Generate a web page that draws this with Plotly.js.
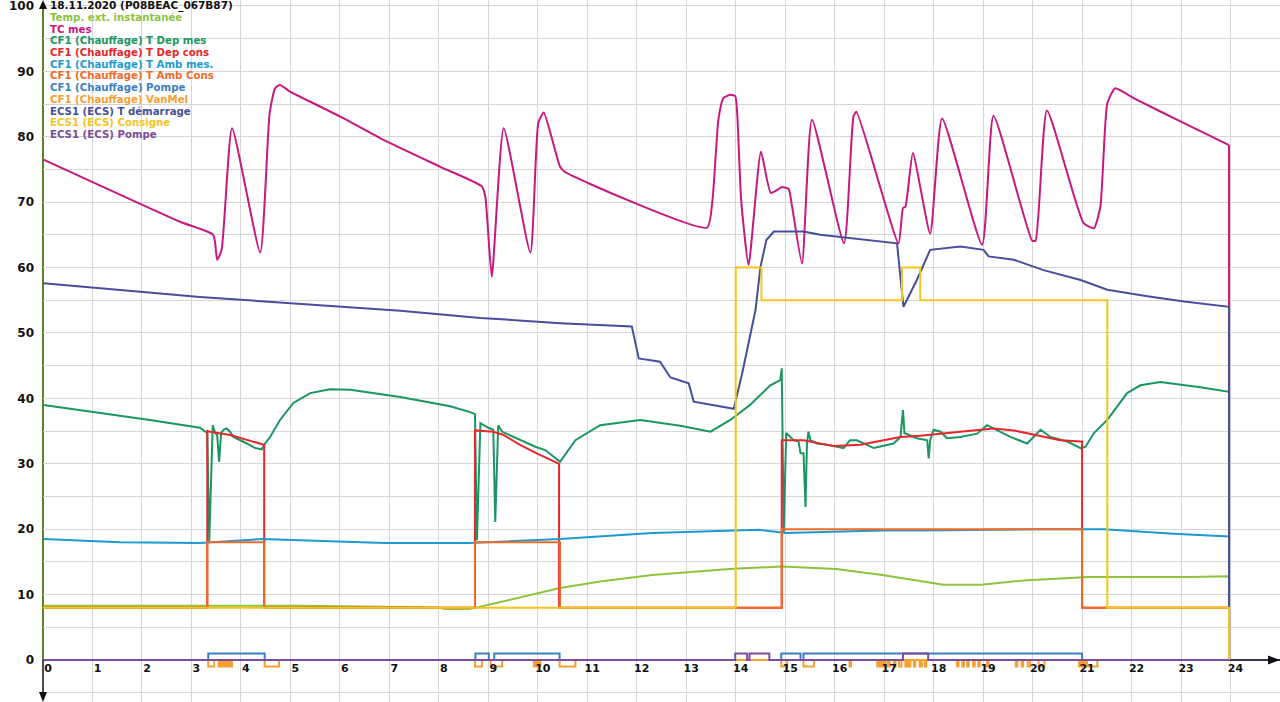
<!DOCTYPE html>
<html>
<head>
<meta charset="utf-8">
<script src="https://cdn.plot.ly/plotly-3.0.1.min.js"></script>
<style>html,body{margin:0;padding:0;background:#fff;}#chart{width:1280px;height:702px;}</style>
</head>
<body>
<div id="chart"></div>
<script>
// ---------- DATA ----------
const titleText = "18.11.2020 (P08BEAC_067B87)";
const seriesNames = [
  "Temp. ext. instantanée",
  "TC mes",
  "CF1 (Chauffage) T Dep mes",
  "CF1 (Chauffage) T Dep cons",
  "CF1 (Chauffage) T Amb mes.",
  "CF1 (Chauffage) T Amb Cons",
  "CF1 (Chauffage) Pompe",
  "CF1 (Chauffage) VanMel",
  "ECS1 (ECS) T démarrage",
  "ECS1 (ECS) Consigne",
  "ECS1 (ECS) Pompe"
];
const seriesColors = ["#8cc43c","#c8177f","#1a9660","#e8262b","#1b9bd0","#f06a28","#3b7fc4","#f5a031","#464f9a","#f7c41b","#7d4c9e"];
const hourTicks = [0,1,2,3,4,5,6,7,8,9,10,11,12,13,14,15,16,17,18,19,20,21,22,23,24];
const valueTicks = [0,10,20,30,40,50,60,70,80,90,100];

// Temp. ext. instantanée
const extX = [0.01,2.16,3.78,5.20,7.22,7.99,8.13,8.61,8.75,9.64,10.45,11.26,12.31,13.87,14.94,16.03,16.96,18.20,18.96,19.89,21.13,23.15,23.97,23.97];
const extY = [8.3,8.3,8.2,8.3,8.1,8.0,7.8,7.8,8.0,9.6,11.0,12.0,13.0,13.9,14.3,13.9,13.0,11.5,11.5,12.2,12.7,12.7,12.8,0];

// TC mes
const tcX = [0.01,2.77,3.44,3.52,3.61,3.82,4.39,4.58,4.69,4.79,4.99,5.20,6.00,6.81,8.03,8.87,8.94,9.07,9.31,9.85,10.01,10.12,10.45,10.55,13.42,13.53,13.65,13.75,13.89,13.99,14.03,14.11,14.26,14.51,14.71,14.94,15.07,15.14,15.34,15.54,16.19,16.38,16.44,17.29,17.38,17.43,17.58,17.93,18.17,18.98,19.21,19.99,20.06,20.29,21.03,21.24,21.37,21.51,21.67,22.04,23.05,23.97];
const tcY = [76.5,67.0,65.0,61.2,62.7,81.3,62.3,83.6,87.4,87.9,86.9,86.1,83.1,79.8,75.4,72.4,70.8,58.6,81.3,62.3,82.1,83.7,75.4,74.6,66.1,70.3,82.6,85.9,86.4,86.2,83.6,70.3,60.4,77.7,71.4,72.3,72.0,69.3,60.6,82.6,63.7,83.1,83.8,63.7,69.1,69.3,77.5,65.2,82.8,63.5,83.2,64.1,64.1,84.0,66.8,66.0,69.3,85.1,87.4,85.9,82.1,78.7];
const tcEndY = [78.7,0];

// CF1 T Dep mes
const depMesX = [0.01,1.15,2.16,3.17,3.32,3.36,3.43,3.48,3.52,3.56,3.60,3.65,3.71,3.78,3.85,4.12,4.29,4.42,4.49,4.59,4.79,5.06,5.40,5.80,6.21,7.22,8.23,8.63,8.73,8.77,8.84,9.00,9.10,9.14,9.20,9.28,9.64,9.95,10.15,10.45,10.76,11.26,12.07,12.88,13.49,13.89,14.29,14.70,14.90,14.93,14.97,15.02,15.17,15.27,15.31,15.37,15.41,15.44,15.47,15.51,15.64,15.85,16.18,16.31,16.45,16.79,17.19,17.33,17.38,17.41,17.66,17.87,17.90,17.93,18.00,18.14,18.27,18.54,18.88,19.08,19.21,19.55,19.89,20.16,20.36,20.70,20.97,21.07,21.24,21.51,21.91,22.18,22.58,23.39,23.97,23.97];
const depMesY = [39.0,37.8,36.7,35.5,34.7,18.1,35.9,34.7,34.4,30.3,34.7,35.2,35.4,34.9,34.1,33.1,32.4,32.2,33.1,34.1,36.7,39.3,40.8,41.4,41.3,40.2,38.8,37.9,37.6,18.3,36.2,35.5,35.2,21.1,35.9,34.9,33.6,32.6,32.1,30.3,33.6,35.9,36.7,35.8,34.9,36.7,39.0,42.0,42.8,44.6,19.4,34.7,33.6,33.4,31.6,31.6,23.4,33.1,34.9,33.6,33.1,32.9,32.4,33.6,33.6,32.4,33.1,34.1,38.2,34.7,33.9,33.6,30.8,33.6,35.2,34.9,33.9,34.1,34.6,35.9,35.4,34.1,33.1,35.2,34.1,33.4,32.4,32.6,34.7,36.7,40.8,42.0,42.5,41.7,41.0,0];

// CF1 T Dep cons
const depConsX = [0,3.32,3.32,3.38,3.78,4.12,4.47,4.47,8.73,8.73,9.10,9.31,9.64,9.98,10.43,10.43,14.93,14.93,15.37,15.98,16.52,17.33,17.73,18.54,19.21,19.62,20.16,20.56,20.97,21.0,21.0,23.97,23.97];
const depConsY = [8,8,35.0,34.9,34.4,33.7,32.9,8,8,35.1,34.9,34.4,32.9,31.6,30.0,8,8,33.6,33.6,32.7,32.9,34.1,34.3,34.9,35.4,35.1,34.3,33.6,33.4,33.4,8,8,0];

// CF1 T Amb mes.
const ambMesX = [0.01,1.56,3.17,4.43,5.20,6.89,8.61,10.45,12.31,13.87,14.48,15.02,16.96,17.73,20.06,21.45,22.85,23.97,23.97];
const ambMesY = [18.5,18.0,17.9,18.5,18.3,17.9,17.9,18.5,19.4,19.7,19.9,19.4,19.8,19.8,20.0,20.0,19.3,18.9,0];

// CF1 T Amb Cons
const ambConsX = [0,3.32,3.32,4.47,4.47,8.73,8.73,10.45,10.45,14.93,14.93,21.0,21.0,23.97,23.97];
const ambConsY = [8,8,18,18,8,8,18,18,8,8,20,20,8,8,0];

// CF1 Pompe (on intervals, level)
const pompeOn = [[3.34,4.48],[8.74,9.01],[9.12,10.44],[14.92,15.31],[15.37,21.0]];
const pompeLevel = 1;

// CF1 VanMel (active intervals, level)
const vanMelOn = [[3.34,3.46],[3.55,3.58],[3.60,3.63],[3.65,3.67],[3.69,3.72],[3.74,3.76],[3.78,3.82],[4.48,4.77],
  [8.73,8.87],[9.05,9.28],[9.92,9.95],[9.97,10.0],[10.02,10.05],[10.44,10.76],
  [14.92,15.04],[15.37,15.58],[16.30,16.33],[16.86,16.89],[16.93,16.96],[17.0,17.03],[17.08,17.11],[17.2,17.23],[17.3,17.35],
  [17.43,17.46],[17.5,17.53],[17.6,17.63],[17.72,17.76],[17.82,17.85],
  [18.47,18.5],[18.58,18.61],[18.68,18.71],[18.8,18.83],[18.9,18.93],[19.08,19.11],
  [19.66,19.69],[19.78,19.81],[19.9,19.95],[20.12,20.24],[20.94,20.98],[21.02,21.06],[21.1,21.31]];
const vanMelLevel = -1;

// ECS1 T démarrage
const demX = [0.01,3.17,7.22,8.84,10.45,11.90,12.04,12.47,12.68,13.05,13.15,13.96,14.13,14.29,14.40,14.50,14.62,14.77,15.37,15.71,16.72,17.26,17.39,17.53,17.66,17.93,18.14,18.54,19.01,19.11,19.62,20.22,20.97,21.51,22.32,23.06,23.97,23.97];
const demY = [57.6,55.5,53.4,52.3,51.5,51.0,46.1,45.6,43.2,42.3,39.5,38.4,43.8,49.4,53.5,60.1,64.2,65.5,65.5,65.0,64.2,63.7,54.0,56.1,58.1,62.7,62.9,63.2,62.7,61.7,61.2,59.6,58.1,56.6,55.6,54.8,54.0,0];

// ECS1 Consigne
const ecsConsX = [0,14.0,14.0,14.52,14.52,17.36,17.36,17.73,17.73,21.51,21.51,23.97,23.97];
const ecsConsY = [8,8,60,60,55,55,60,60,55,55,8,8,0];

// ECS1 Pompe
const ecsPompeOn = [[13.99,14.23],[14.28,14.68],[17.38,17.89]];
const ecsPompeLevel = 1;

// ---------- BUILD ----------
function steps(intervals, level, end){
  const x=[0], y=[0];
  intervals.forEach(([a,b])=>{ x.push(a,a,b,b); y.push(0,level,level,0); });
  x.push(end); y.push(0);
  return {x,y};
}
const p1 = steps(pompeOn, pompeLevel, 23.97);
const vm = steps(vanMelOn, vanMelLevel, 23.97);
const p2 = steps(ecsPompeOn, ecsPompeLevel, 23.97);

const seriesXY = [
  [extX,extY],[tcX,tcY],[depMesX,depMesY],[depConsX,depConsY],[ambMesX,ambMesY],[ambConsX,ambConsY],
  [p1.x,p1.y],[vm.x,vm.y],[demX,demY],[ecsConsX,ecsConsY],[p2.x,p2.y]
];
const traces = [];
seriesXY.forEach((xy,i)=>{
  const line = {color:seriesColors[i], width:2};
  if(i===1){ line.shape='spline'; line.smoothing=0.5; }
  traces.push({
    type:'scatter', mode:'lines', x:xy[0], y:xy[1], name:seriesNames[i],
    line, hoverinfo:'skip', showlegend:false
  });
  if(i===1){
    const lastX = tcX[tcX.length-1];
    traces.push({type:'scatter', mode:'lines', x:[lastX,lastX], y:tcEndY, name:seriesNames[i],
      line:{color:seriesColors[i], width:2}, hoverinfo:'skip', showlegend:false});
  }
});

// pixel helpers for decorations (plot area: x 43..1280, y 0..702)
const PX = p => (p-43)/1237;
const PY = p => (702-p)/702;
const FONT = 'DejaVu Sans';

const annotations = [{
  xref:'paper', yref:'paper', x:PX(48), y:PY(6), xanchor:'left', yanchor:'middle', showarrow:false,
  text:'<b>'+titleText+'</b>', font:{family:FONT, size:10.5, color:'#111'}
}];
seriesNames.forEach((n,i)=>annotations.push({
  xref:'paper', yref:'paper', x:PX(48), y:PY(17.5+i*11.7), xanchor:'left', yanchor:'middle', showarrow:false,
  text:'<b>'+n+'</b>', font:{family:FONT, size:10.2, color:seriesColors[i]}
}));

const shapes = [
  {type:'line', xref:'paper', yref:'paper', x0:0, x1:0, y0:PY(660), y1:PY(2), line:{color:'#5d7f25', width:2}, layer:'below'},
  {type:'line', xref:'paper', yref:'paper', x0:0, x1:0, y0:PY(698), y1:PY(660), line:{color:'#111', width:1.5}},
  {type:'path', xref:'paper', yref:'paper', fillcolor:'#111', line:{width:0},
   path:`M${PX(43)},${PY(0)} L${PX(39)},${PY(9)} L${PX(47)},${PY(9)} Z`},
  {type:'path', xref:'paper', yref:'paper', fillcolor:'#111', line:{width:0},
   path:`M${PX(43)},${PY(702)} L${PX(39)},${PY(692)} L${PX(47)},${PY(692)} Z`},
  {type:'path', xref:'paper', yref:'paper', fillcolor:'#111', line:{width:0},
   path:`M${PX(1280)},${PY(660)} L${PX(1268)},${PY(655.5)} L${PX(1268)},${PY(664.5)} Z`}
];

const layout = {
  width:1280, height:702,
  margin:{l:43, r:0, t:0, b:0, pad:0},
  paper_bgcolor:'#fff', plot_bgcolor:'#fff',
  showlegend:false,
  xaxis:{
    range:[0,25], tickmode:'array', tickvals:hourTicks, ticktext:hourTicks.map(String),
    showgrid:true, gridcolor:'#d6d6d6', gridwidth:1, zeroline:false, showline:false,
    anchor:'free', position:42/702, ticks:'', ticklabelshift:5,
    tickfont:{family:FONT, size:11, color:'#111', weight:'bold'}
  },
  yaxis:{
    range:[-6.42,100.9], tickmode:'array', tickvals:valueTicks, ticktext:valueTicks.map(String),
    showgrid:true, gridcolor:'#d6d6d6', gridwidth:1,
    minor:{dtick:5, tick0:0, showgrid:true, gridcolor:'#d6d6d6', gridwidth:1},
    zeroline:true, zerolinecolor:'#3a3150', zerolinewidth:2, showline:false, ticks:'',
    ticklabeloverflow:'allow', ticklabelstandoff:8,
    tickfont:{family:FONT, size:12, color:'#111', weight:'bold'}
  },
  annotations, shapes
};

Plotly.newPlot('chart', traces, layout, {displayModeBar:false, staticPlot:true});
</script>
</body>
</html>
